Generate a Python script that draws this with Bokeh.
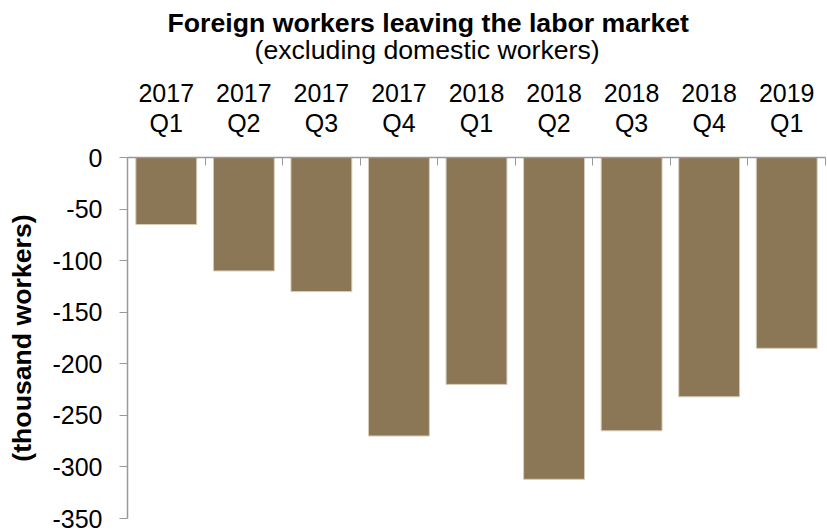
from bokeh.plotting import figure
from bokeh.models import Range1d, FixedTicker, Title
from bokeh.embed import file_html
from bokeh.resources import INLINE

quarters = ["2017\nQ1", "2017\nQ2", "2017\nQ3", "2017\nQ4", "2018\nQ1",
            "2018\nQ2", "2018\nQ3", "2018\nQ4", "2019\nQ1"]
values = [-65, -110, -130, -270, -220, -312, -265, -232, -185]
y_ticks = [0, -50, -100, -150, -200, -250, -300, -350]

title_text = "Foreign workers leaving the labor market"
subtitle_text = "(excluding domestic workers)"
y_label = "(thousand workers)"

FONT = "Liberation Sans"
BIG = "26.67px"
n = len(values)
centers = [i + 0.5 for i in range(n)]
bounds = [float(i) for i in range(n + 1)]

p = figure(width=827, height=532, output_backend="svg", toolbar_location=None,
           x_range=Range1d(0, n), y_range=Range1d(min(y_ticks), max(y_ticks)),
           x_axis_location="above", title=None,
           min_border_left=127, min_border_right=2, min_border_top=157,
           min_border_bottom=14)

p.vbar(x=centers, top=0, bottom=values, width=0.785,
       fill_color="#8B7756", line_color="#D6CCBA", line_width=1)

# category axis (above)
xa = p.xaxis[0]
xa.ticker = FixedTicker(ticks=centers, minor_ticks=bounds)
xa.major_label_overrides = {c: q for c, q in zip(centers, quarters)}
xa.major_tick_in = 0
xa.major_tick_out = 0
xa.minor_tick_in = 8
xa.minor_tick_out = 0
xa.minor_tick_line_color = "#999999"
xa.axis_line_color = "#999999"
xa.axis_line_width = 1.5
xa.major_label_text_font = FONT
xa.major_label_text_font_size = "25px"
xa.major_label_text_color = "black"
xa.major_label_text_line_height = 1.05
xa.major_label_standoff = 21

# value axis
ya = p.yaxis[0]
ya.ticker = FixedTicker(ticks=y_ticks)
ya.major_label_overrides = {t: str(t) for t in y_ticks}
ya.major_tick_out = 8
ya.major_tick_in = 0
ya.minor_tick_out = 0
ya.minor_tick_in = 0
ya.major_tick_line_color = "#999999"
ya.axis_line_color = "#999999"
ya.axis_line_width = 1.5
ya.major_label_text_font = FONT
ya.major_label_text_font_size = "25px"
ya.major_label_text_color = "black"
ya.major_label_standoff = 17
ya.axis_label = y_label
ya.axis_label_text_font = FONT
ya.axis_label_text_font_size = BIG
ya.axis_label_text_font_style = "bold"
ya.axis_label_text_color = "black"
ya.axis_label_standoff = 12

p.grid.visible = False
p.outline_line_color = None

p.add_layout(Title(text=subtitle_text, align="left", offset=127,
                   vertical_align="top", text_font=FONT,
                   text_font_size=BIG, text_font_style="normal",
                   text_color="black", standoff=18.6), "above")
p.add_layout(Title(text=title_text, align="left", offset=40,
                   vertical_align="bottom", text_font=FONT,
                   text_font_size=BIG, text_font_style="bold",
                   text_color="black", standoff=-25.5), "above")

open("out.html", "w").write(file_html(p, INLINE))
